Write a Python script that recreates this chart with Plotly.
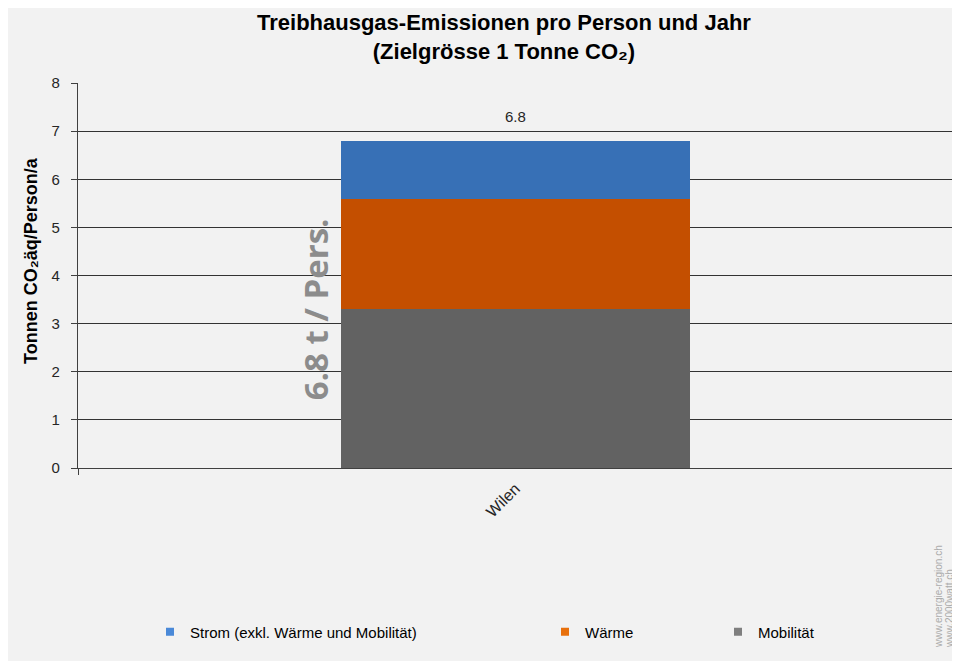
import plotly.graph_objects as go

# ---- data ----
categories = ["Wilen"]
series_names = ["Mobilität", "Wärme", "Strom (exkl. Wärme und Mobilität)"]
mobilitaet = [3.3]
waerme = [2.3]
strom = [1.2]
y_ticks = [0, 1, 2, 3, 4, 5, 6, 7, 8]

bar_colors = ["#626262", "#c44f00", "#3770b6"]
legend_colors = ["#7f7f7f", "#e8700c", "#4a89d8"]

# page has an 8px body margin -> figure drawn at (8, 8) on screen
OFF = 8
W, H = 952, 653
# plot area in screen pixels: x 78..953, y 83..468
ML = 78 - OFF
MT = 83 - OFF
MR = W - (953 - OFF)
MB = H - (468 - OFF)
PW = W - ML - MR
PH = H - MT - MB


def px_x(p):
    """screen x pixel -> paper coordinate"""
    return (p - OFF - ML) / PW


def px_y(p):
    """screen y pixel -> paper coordinate"""
    return (H - MB - (p - OFF)) / PH


FONT = "Liberation Sans, Arial, sans-serif"

fig = go.Figure()
values = [mobilitaet, waerme, strom]
for name, vals, col in zip(series_names, values, bar_colors):
    fig.add_trace(go.Bar(x=categories, y=vals, name=name, marker=dict(color=col, line=dict(width=0)),
                         width=0.398, showlegend=False, hoverinfo="y+name"))

# legend entries (one legend per item to reproduce the uneven spacing)
legend_keys = ["legend3", "legend2", "legend"]
for name, col, lk in zip(series_names, legend_colors, legend_keys):
    fig.add_trace(go.Scatter(x=[None], y=[None], mode="markers", name=name,
                             marker=dict(symbol="square", size=8, color=col),
                             legend=lk, showlegend=True))

totals = [a + b + c for a, b, c in zip(mobilitaet, waerme, strom)]

annotations = []
for cat, tot in zip(categories, totals):
    annotations.append(dict(x=cat, y=tot, text=f"{tot:.1f}", showarrow=False, yanchor="bottom",
                            yshift=14, font=dict(family=FONT, size=15, color="#262626")))
    annotations.append(dict(x=-0.229, y=3.3, xref="x", yref="y", text=f"{tot:.1f} t / Pers.", textangle=-90,
                            showarrow=False, font=dict(family="Open Sans, sans-serif", size=33, color="#8c8c8c",
                                                       weight="bold")))

annotations.append(dict(x=px_x(504), y=px_y(8), xref="paper", yref="paper", xanchor="center", yanchor="top",
                        text="<b>Treibhausgas-Emissionen pro Person und Jahr<br>(Zielgrösse 1 Tonne CO₂)</b>",
                        showarrow=False, font=dict(family=FONT, size=22, color="#000000")))

annotations.append(dict(x=px_x(19), y=px_y(261), xref="paper", yref="paper", text="<b>Tonnen CO₂äq/Person/a</b>",
                        textangle=-90, showarrow=False, font=dict(family=FONT, size=18, color="#000000")))
annotations.append(dict(x=px_x(946), y=px_y(650), xref="paper", yref="paper", text="www.energie-region.ch",
                        textangle=-90, showarrow=False, yanchor="bottom",
                        font=dict(family=FONT, size=10, color="#ababab")))
annotations.append(dict(x=px_x(957), y=px_y(650), xref="paper", yref="paper", text="www.2000watt.ch",
                        textangle=-90, showarrow=False, yanchor="bottom",
                        font=dict(family=FONT, size=10, color="#ababab")))

legend_common = dict(orientation="h", xanchor="left", yanchor="middle", bgcolor="rgba(0,0,0,0)",
                     font=dict(family=FONT, size=15, color="#000000"), itemwidth=30)
fig.update_layout(
    width=W, height=H,
    margin=dict(l=ML, r=MR, t=MT, b=MB),
    paper_bgcolor="#f2f2f2", plot_bgcolor="rgba(0,0,0,0)",
    barmode="stack",
    showlegend=True,
    legend=dict(x=px_x(190 - 40), y=px_y(632), **legend_common),
    legend2=dict(x=px_x(585 - 40), y=px_y(632), **legend_common),
    legend3=dict(x=px_x(758 - 40), y=px_y(632), **legend_common),
    annotations=annotations,
    xaxis=dict(range=[-0.5, 0.5], tickangle=-45, ticks="outside", tickson="boundaries", ticklen=6,
               tickcolor="#404040", showline=True, linecolor="#404040", linewidth=1.3,
               tickfont=dict(family=FONT, size=16, color="#262626"), showgrid=False, zeroline=False,
               ticklabelstandoff=4),
    yaxis=dict(range=[0, 8], tickvals=y_ticks, ticks="outside", ticklen=6, tickcolor="#404040",
               showline=True, linecolor="#404040", linewidth=1.3, showgrid=True, gridcolor="#333333",
               gridwidth=1.3, zeroline=False, tickfont=dict(family=FONT, size=15, color="#262626"),
               ticklabelstandoff=8),
)

fig.write_html("out.html")
